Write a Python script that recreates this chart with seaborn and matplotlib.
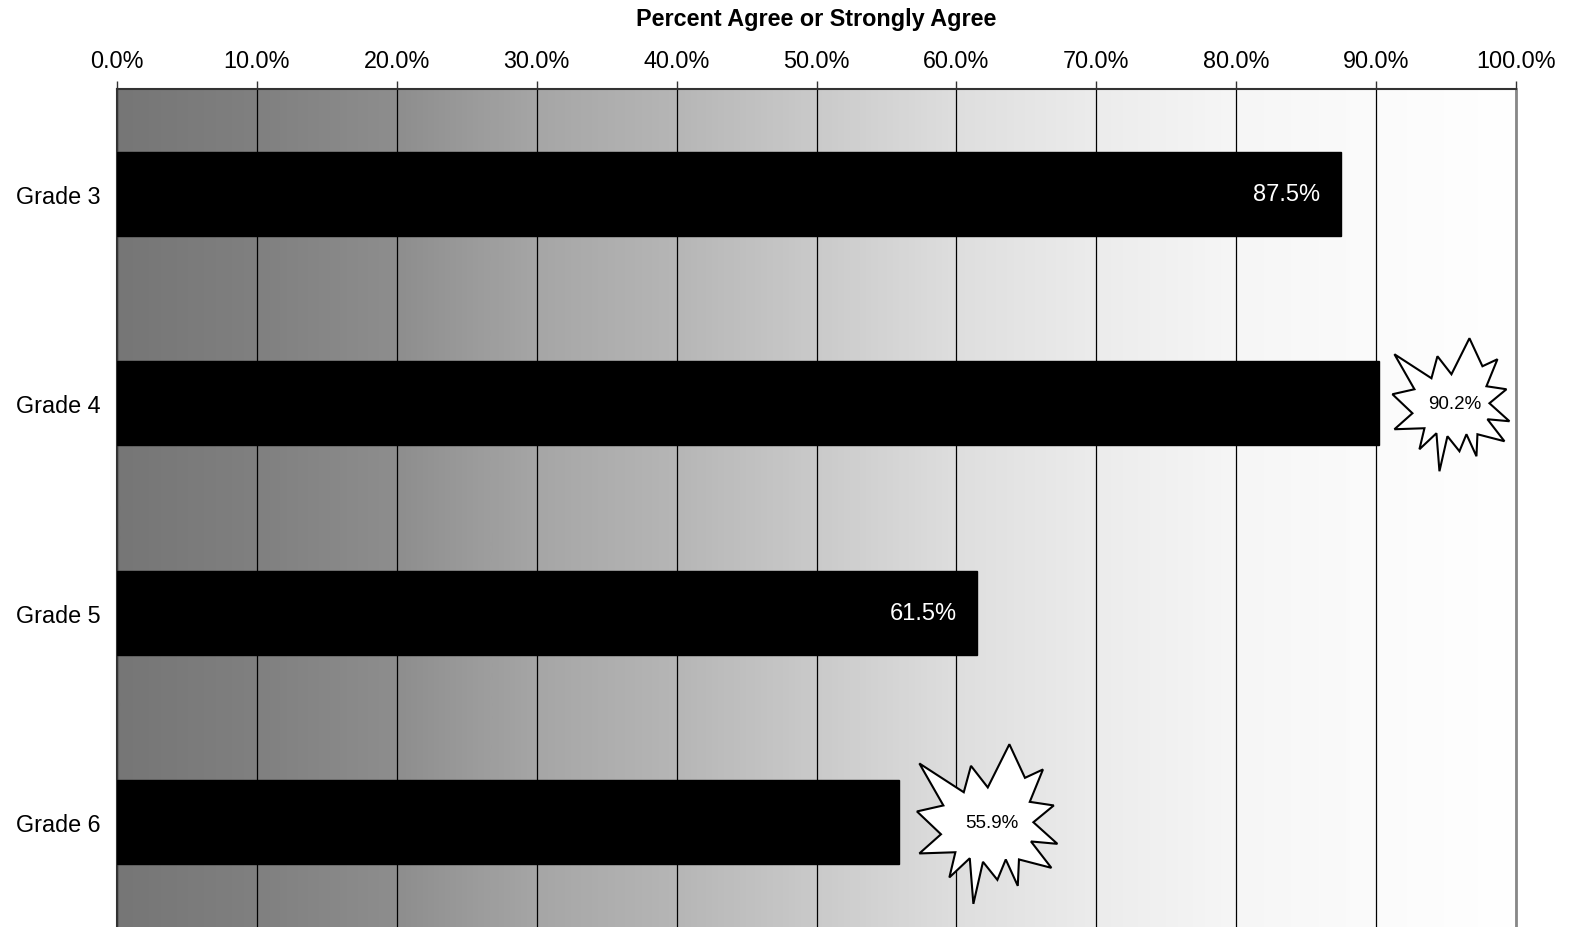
import numpy as np
import pandas as pd
import seaborn as sns
import matplotlib.pyplot as plt
from matplotlib.colors import LinearSegmentedColormap
from matplotlib.patches import Polygon
from matplotlib import transforms

# Data
grades = ['Grade 3', 'Grade 4', 'Grade 5', 'Grade 6']
pct = [87.5, 90.2, 61.5, 55.9]
starred = [False, True, False, True]  # values highlighted with a starburst
x_ticks = list(range(0, 101, 10))

df = pd.DataFrame({'Grade': grades, 'Percent': pct})

sns.set_style('white')
plt.rcParams['font.family'] = ['Liberation Sans', 'DejaVu Sans']
plt.rcParams['text.color'] = 'black'
plt.rcParams['axes.labelcolor'] = 'black'
plt.rcParams['xtick.color'] = 'black'
plt.rcParams['ytick.color'] = 'black'

fig = plt.figure(figsize=(15.71, 9.28), dpi=100)
ax = fig.add_axes([117 / 1571, 0.0, (1516 - 117) / 1571, 1 - 90 / 928])

# gradient background, dark grey -> white
stops = ['#767676', '#808080', '#8e8e8e', '#a6a6a6', '#b6b6b6', '#cacaca',
         '#dedede', '#ececec', '#f6f6f6', '#fbfbfb', '#ffffff']
cmap = LinearSegmentedColormap.from_list('bg', stops)
ax.imshow(np.linspace(0, 1, 512).reshape(1, -1), cmap=cmap, aspect='auto',
          extent=[0, 100, 3.5, -0.5], zorder=0)

sns.barplot(data=df, x='Percent', y='Grade', orient='h', color='black',
            width=0.4, saturation=1, ax=ax, zorder=3)
for p in ax.patches:
    p.set_edgecolor('black')

ax.set_xlim(0, 100)
ax.set_ylim(3.5, -0.5)

# x axis on top
ax.xaxis.tick_top()
ax.xaxis.set_label_position('top')
ax.set_xticks(x_ticks)
ax.set_xticklabels([f'{t:.1f}%' for t in x_ticks], fontsize=16.8)
ax.tick_params(axis='x', direction='out', length=6, width=1, color='#333333', pad=6)
ax.set_xlabel('Percent Agree or Strongly Agree', fontsize=16.8, fontweight='bold', labelpad=17.5)
ax.grid(axis='x', color='black', linewidth=0.9, zorder=1)
ax.set_axisbelow(True)

# y axis: labels at centres, ticks at category boundaries
ax.set_ylabel('')
ax.set_yticks(range(len(grades)))
ax.set_yticklabels(grades, fontsize=16.8)
ax.tick_params(axis='y', length=0, pad=12)
ax.set_yticks([-0.5, 0.5, 1.5, 2.5], minor=True)
ax.tick_params(axis='y', which='minor', direction='out', length=7, width=1, color='#333333')

for side in ['top', 'left']:
    ax.spines[side].set_color('#333333')
    ax.spines[side].set_linewidth(1.5)
ax.spines['right'].set_color('#888888')
ax.spines['right'].set_linewidth(2)
ax.spines['bottom'].set_visible(False)

# starburst outline, pixel offsets from its centre (y down)
burst = np.array([
    (15, -65), (-3, -29), (-17, -47), (-23, -25), (-60, -49), (-40, -14),
    (-62, -9), (-42, 10), (-60, 26), (-30, 25), (-35, 46), (-18, 30),
    (-15, 68), (-7, 33), (5, 48), (12, 31), (22, 53), (23, 31),
    (50, 38), (33, 16), (55, 18), (35, 0), (52, -14), (32, -17),
    (43, -44), (28, -37),
], dtype=float)
burst[:, 1] *= -1

star_scale = {90.2: 1.0, 55.9: 1.2}
star_gap = {90.2: 5.4, 55.9: 6.6}

for i, (g, v, s) in enumerate(zip(grades, pct, starred)):
    if s:
        cx = v + star_gap[v]
        trans = fig.dpi_scale_trans + transforms.ScaledTranslation(cx, i, ax.transData)
        star = Polygon(burst * star_scale[v] / 100, closed=True, facecolor='white',
                       edgecolor='black', linewidth=1.5, transform=trans, zorder=5,
                       clip_on=False)
        ax.add_patch(star)
        ax.text(cx, i, f'{v:.1f}%', ha='center', va='center', fontsize=13.5,
                color='black', zorder=6)
    else:
        ax.text(v - 1.5, i, f'{v:.1f}%', ha='right', va='center', fontsize=17,
                color='white', zorder=6)

fig.savefig('out.png', dpi=100)
